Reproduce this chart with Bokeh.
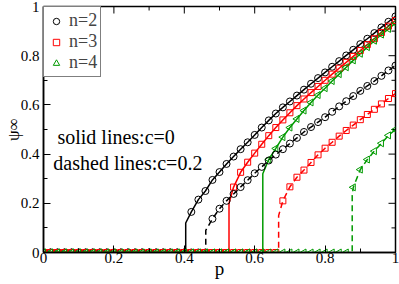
import math
from bokeh.plotting import figure
from bokeh.models import FixedTicker, Range1d, Legend, LegendItem, Label
from bokeh.embed import file_html
from bokeh.resources import INLINE

# ---------------- data ----------------
p_grid = [0.00, 0.02, 0.04, 0.06, 0.08, 0.10, 0.12, 0.14, 0.16, 0.18,
          0.20, 0.22, 0.24, 0.26, 0.28, 0.30, 0.32, 0.34, 0.36, 0.38,
          0.40, 0.42, 0.44, 0.46, 0.48, 0.50, 0.52, 0.54, 0.56, 0.58,
          0.60, 0.62, 0.64, 0.66, 0.68, 0.70, 0.72, 0.74, 0.76, 0.78,
          0.80, 0.82, 0.84, 0.86, 0.88, 0.90, 0.92, 0.94, 0.96, 0.98, 1.00]

# c = 0 (solid lines)
psi_n2_c0 = [0]*21 + [0.165, 0.215, 0.25, 0.295, 0.327, 0.36, 0.39, 0.42, 0.448, 0.478,
                      0.508, 0.537, 0.565, 0.59, 0.614, 0.638, 0.662, 0.686, 0.709, 0.732,
                      0.755, 0.778, 0.801, 0.824, 0.847, 0.869, 0.892, 0.915, 0.938, 0.96]
psi_n3_c0 = [0]*27 + [0.266, 0.326, 0.367, 0.404, 0.44, 0.475, 0.508, 0.539, 0.568, 0.597,
                      0.624, 0.65, 0.675, 0.70, 0.725, 0.749, 0.773, 0.797, 0.821, 0.845,
                      0.869, 0.894, 0.92, 0.943]
psi_n4_c0 = [0]*32 + [0.378, 0.423, 0.469, 0.508, 0.543, 0.577, 0.61, 0.64, 0.668, 0.697,
                      0.725, 0.753, 0.781, 0.808, 0.835, 0.861, 0.886, 0.909, 0.932]
# c = 0.2 (dashed lines)
psi_n2_c2 = [0]*24 + [0.137, 0.178, 0.21, 0.238, 0.266, 0.294, 0.322, 0.348, 0.374, 0.398,
                      0.42, 0.443, 0.466, 0.49, 0.51, 0.53, 0.55, 0.572, 0.594, 0.615,
                      0.636, 0.657, 0.677, 0.697, 0.718, 0.74, 0.76]
psi_n3_c2 = [0]*34 + [0.21, 0.267, 0.306, 0.335, 0.366, 0.397, 0.424, 0.448, 0.473, 0.496,
                      0.518, 0.54, 0.561, 0.582, 0.604, 0.626, 0.646]
psi_n4_c2 = [0]*44 + [0.265, 0.337, 0.378, 0.412, 0.444, 0.476, 0.50]

# transition points (p_c) and height of the near-vertical jump of each theory line
pc_n2_c0, knee_n2_c0 = 0.404, 0.12
pc_n3_c0, knee_n3_c0 = 0.527, 0.20
pc_n4_c0, knee_n4_c0 = 0.623, 0.32
pc_n2_c2, knee_n2_c2 = 0.461, 0.09
pc_n3_c2, knee_n3_c2 = 0.668, 0.15
pc_n4_c2, knee_n4_c2 = 0.877, 0.23

tick_values = [0.0, 0.2, 0.4, 0.6, 0.8, 1.0]
tick_labels = ["0", "0.2", "0.4", "0.6", "0.8", "1"]
minor_values = [0.1, 0.3, 0.5, 0.7, 0.9]

legend_labels = ["n=2", "n=3", "n=4"]
note_solid = "solid lines:c=0"
note_dashed = "dashed lines:c=0.2"

BLACK, RED, GREEN = "#000000", "#ff0000", "#009a00"
SERIF = "Liberation Serif"


def line_data(vals, pc, knee):
    xs = [x for x, v in zip(p_grid, vals) if v == 0] + [pc, pc]
    ys = [0.0 for v in vals if v == 0] + [0.0, knee]
    xs += [x for x, v in zip(p_grid, vals) if v != 0]
    ys += [v for v in vals if v != 0]
    return xs, ys


p = figure(width=399, height=284, x_range=Range1d(0, 1), y_range=Range1d(0, 1),
           output_backend="svg", toolbar_location=None,
           min_border_left=42, min_border_right=4, min_border_top=6, min_border_bottom=32)
p.grid.visible = False
p.outline_line_color = "black"
p.outline_line_width = 1.5
p.background_fill_color = "white"
p.border_fill_color = "white"

ticker = FixedTicker(ticks=tick_values, minor_ticks=minor_values)
overrides = {v: s for v, s in zip(tick_values, tick_labels)}

for ax in (p.xaxis[0], p.yaxis[0]):
    ax.ticker = ticker
    ax.major_label_overrides = overrides
    ax.major_label_text_font = SERIF
    ax.major_label_text_font_size = "15px"
    ax.major_label_text_color = "black"
    ax.major_tick_in = 7
    ax.major_tick_out = 0
    ax.minor_tick_in = 4
    ax.minor_tick_out = 0
    ax.axis_line_width = 1.5
    ax.major_tick_line_width = 1
    ax.axis_label_text_font = SERIF
    ax.axis_label_text_font_style = "normal"
    ax.axis_label_text_color = "black"

p.xaxis.axis_label = "p"
p.xaxis.axis_label_text_font_size = "19px"
p.xaxis.major_label_standoff = 0
p.xaxis.axis_label_standoff = -8
p.yaxis.axis_label = "ψ∞"
p.yaxis.axis_label_text_font_size = "17px"
p.yaxis.major_label_standoff = 4
p.yaxis.axis_label_standoff = -5

# mirrored inward ticks on the top and right edges (half of each dash is clipped by the frame)
n_major, n_minor = len(tick_values), len(minor_values)
p.scatter(tick_values, [1.0]*n_major, marker="dash", size=14, angle=math.pi/2, line_color="black", line_width=1)
p.scatter(minor_values, [1.0]*n_minor, marker="dash", size=8, angle=math.pi/2, line_color="black", line_width=1)
p.scatter([1.0]*n_major, tick_values, marker="dash", size=14, line_color="black", line_width=1)
p.scatter([1.0]*n_minor, minor_values, marker="dash", size=8, line_color="black", line_width=1)

series = [
    (psi_n2_c0, pc_n2_c0, knee_n2_c0, BLACK, "circle", "solid"),
    (psi_n3_c0, pc_n3_c0, knee_n3_c0, RED, "square", "solid"),
    (psi_n4_c0, pc_n4_c0, knee_n4_c0, GREEN, "triangle", "solid"),
    (psi_n2_c2, pc_n2_c2, knee_n2_c2, BLACK, "circle", "6 4"),
    (psi_n3_c2, pc_n3_c2, knee_n3_c2, RED, "square", "6 4"),
    (psi_n4_c2, pc_n4_c2, knee_n4_c2, GREEN, "triangle", "6 4"),
]

marker_renderers = []
for vals, pc, knee, col, mk, dash in series:
    xs, ys = line_data(vals, pc, knee)
    p.line(xs, ys, line_color=col, line_width=1.5, line_dash=dash)
for vals, pc, knee, col, mk, dash in series:
    ang = math.pi / 2 if mk == "triangle" else 0.0
    size = 7 if mk != "square" else 6
    r = p.scatter(p_grid, vals, marker=mk, size=size, angle=ang, fill_color=None,
                  line_color=col, line_width=1)
    marker_renderers.append(r)

legend = Legend(items=[LegendItem(label=legend_labels[i], renderers=[marker_renderers[i]])
                       for i in range(3)],
                location="top_left", margin=0, padding=3, spacing=0,
                glyph_width=18, glyph_height=16, label_height=16, label_standoff=4,
                label_text_font=SERIF, label_text_font_size="18px",
                border_line_color="black", border_line_width=1,
                background_fill_color="white", background_fill_alpha=1)
p.add_layout(legend)

p.add_layout(Label(x=0.0396, y=0.47, text=note_solid, text_font=SERIF, text_font_size="20px",
                   text_baseline="middle", text_color="black"))
p.add_layout(Label(x=0.028, y=0.365, text=note_dashed, text_font=SERIF, text_font_size="20px",
                   text_baseline="middle", text_color="black"))

open("out.html", "w").write(file_html(p, INLINE))
